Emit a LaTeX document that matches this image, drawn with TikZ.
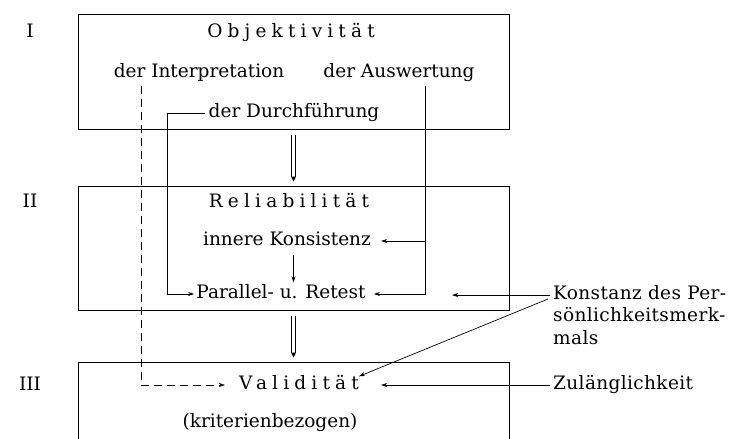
\documentclass[tikz,border=0pt]{standalone}
\usepackage{fontspec}
\setmainfont{DejaVu Serif}
\usetikzlibrary{arrows.meta}
\begin{document}
\begin{tikzpicture}[x=1pt,y=-1pt,
  every node/.style={inner sep=0pt, font=\fontsize{18.5}{21}\selectfont},
  txt/.style={text height=13pt, text depth=4pt},
  spaced/.style={txt, font=\fontsize{18.5}{21}\selectfont\addfontfeature{LetterSpace=28}},
  side/.style={txt, anchor=west, font=\fontsize{18.5}{21}\selectfont\addfontfeature{LetterSpace=2}},
  box/.style={draw, line width=1pt, minimum width=431pt},
  wire/.style={line width=0.7pt},
  arr/.style={wire, -{Stealth[length=6pt,width=4pt]}},
  dsh/.style={arr, dash pattern=on 8pt off 5pt},
  dbl/.style={double, double distance=3pt, line width=0.6pt}
]
\useasboundingbox (0,0) rectangle (731,439);

% the three levels
\node[box, minimum height=115pt] (boxI)   at (293.5,71.5) {};
\node[box, minimum height=124pt] (boxII)  at (293.5,248)  {};
\node[box, minimum height=110pt] (boxIII) at (293.5,417)  {};

\node[txt] (lI)   at (30,33)  {I};
\node[txt] (lII)  at (30,203) {II};
\node[txt] (lIII) at (30,386) {III};

% level I
\node[spaced] (obj)    at (291,33)  {Objektivität};
\node[txt]    (interp) at (199,73)  {der Interpretation};
\node[txt]    (ausw)   at (399,73)  {der Auswertung};
\node[txt]    (durch)  at (294,113) {der Durchführung};

% level II
\node[spaced] (rel)  at (289,203) {Reliabilität};
\node[txt]    (kons) at (287,241) {innere Konsistenz};
\node[txt]    (para) at (281,294) {Parallel- u. Retest};

% level III
\node[spaced] (vali) at (299,385) {Validität};
\node[txt]    (krit) at (270,423) {(kriterienbezogen)};

% outside labels
\node[side] (konst1) at (553,295) {Konstanz des Per-};
\node[side] (konst2) at (553,317) {sönlichkeitsmerk-};
\node[side] (konst3) at (553,340) {mals};
\node[side] (zul)    at (553,385) {Zulänglichkeit};

% connectors
\coordinate (dI) at (141,86);
\coordinate (dA) at (425,86);
\coordinate (kT) at (452,295);
\coordinate (kD) at (548,299);

\draw[dsh, shorten >=14pt] (dI) |- (vali.west);
\draw[arr, shorten >=2pt] (durch.west) ++(-4,0) -- ++(-37,0) |- (para.west);
\draw[arr, shorten >=8pt] (dA) |- (para.east);
\draw[arr, shorten >=10pt] (dA |- kons.east) -- (kons.east);
\draw[arr, shorten <=5pt, shorten >=3pt] (kons.south -| boxI.south) -- (para.north -| boxI.south);

\draw[arr] (konst1.west) ++(-3,0) -- (kT);
\draw[arr] (kD) -- (vali.north east);
\draw[arr, shorten >=22pt] (zul.west) ++(-3,0) -- (vali.east);

% implication arrows between the levels
\path (boxI.south) ++(0,5) coordinate (a1) ++(0,42) coordinate (a2);
\draw[dbl] (a1) -- (a2);
\fill (a2) ++(-2.5,0) -- ++(5,0) -- ++(-2.5,5) -- cycle;
\path (boxII.south) ++(0,5) coordinate (b1) ++(0,37) coordinate (b2);
\draw[dbl] (b1) -- (b2);
\fill (b2) ++(-2.5,0) -- ++(5,0) -- ++(-2.5,5) -- cycle;
\end{tikzpicture}
\end{document}
